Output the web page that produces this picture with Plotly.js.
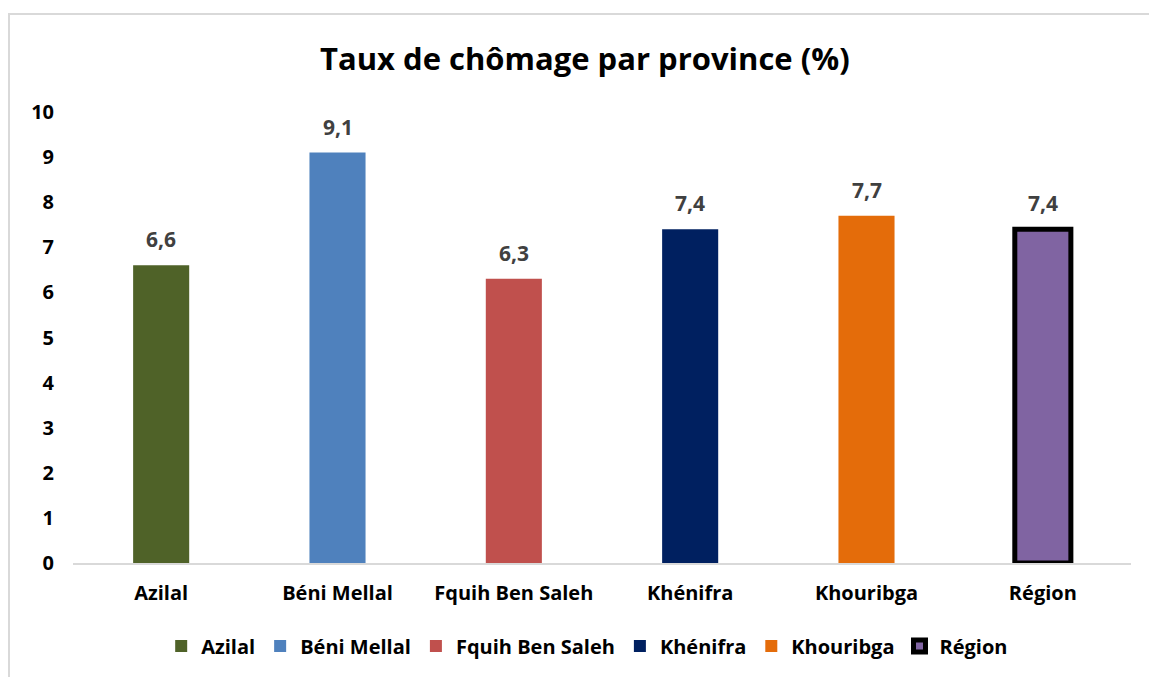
<!DOCTYPE html>
<html>
<head>
<meta charset="utf-8">
<script src="https://cdn.plot.ly/plotly-3.0.1.min.js"></script>
<style>
  html, body { margin: 0; padding: 0; background: #ffffff; }
  #frame { position: absolute; left: 8px; top: 13px; width: 1200px; height: 700px;
           border-left: 2px solid #D9D9D9; border-top: 2px solid #D9D9D9; }
  #chart { position: absolute; left: 0; top: 0; width: 1149px; height: 677px; }
</style>
</head>
<body>
<div id="frame"></div>
<div id="chart"></div>
<script>
const categories = ["Azilal", "Béni Mellal", "Fquih Ben Saleh", "Khénifra", "Khouribga", "Région"];
const values = [6.6, 9.1, 6.3, 7.4, 7.7, 7.4];
const colors = ["#4F6228", "#4F81BD", "#C0504D", "#002060", "#E46C0A", "#8064A2"];
const yTicks = [0, 1, 2, 3, 4, 5, 6, 7, 8, 9, 10];

const FONT = "'Open Sans', Lato, sans-serif";

const traces = categories.map((c, i) => ({
  type: "bar",
  x: [c],
  y: [values[i]],
  name: c,
  width: 0.318,
  marker: {
    color: colors[i],
    line: c === "Région" ? { color: "#000000", width: 5 } : { width: 0 }
  },
  hoverinfo: "x+y"
}));

const annotations = categories.map((c, i) => ({
  x: c,
  y: values[i],
  xref: "x",
  yref: "y",
  text: values[i].toFixed(1).replace(".", ","),
  showarrow: false,
  yanchor: "middle",
  yshift: 26,
  font: { family: FONT, size: 21, color: "#404040", weight: "bold" }
}));

const layout = {
  width: 1149,
  height: 677,
  paper_bgcolor: "rgba(0,0,0,0)",
  plot_bgcolor: "rgba(0,0,0,0)",
  margin: { l: 73, r: 18, t: 112, b: 114 },
  barmode: "overlay",
  separators: ", ",
  title: {
    text: "<b>Taux de chômage par province (%)</b>",
    font: { family: FONT, size: 31, color: "#000000" },
    x: 0.509,
    xanchor: "center",
    xref: "container",
    y: 0.913,
    yanchor: "middle",
    yref: "container"
  },
  xaxis: {
    type: "category",
    categoryorder: "array",
    categoryarray: categories,
    showline: true,
    linecolor: "#D9D9D9",
    linewidth: 2,
    showgrid: false,
    zeroline: false,
    ticks: "",
    ticklabelstandoff: 11,
    tickfont: { family: FONT, size: 20, color: "#000000", weight: "bold" }
  },
  yaxis: {
    range: [0, 10],
    tickvals: yTicks,
    ticktext: yTicks.map(String),
    showline: false,
    showgrid: false,
    zeroline: false,
    ticks: "",
    ticklabelstandoff: 18,
    tickfont: { family: FONT, size: 20, color: "#000000", weight: "bold" }
  },
  showlegend: true,
  legend: {
    orientation: "h",
    x: 0.486,
    xanchor: "center",
    y: -0.184,
    yanchor: "middle",
    font: { family: FONT, size: 20, color: "#000000", weight: "bold" },
    bgcolor: "rgba(0,0,0,0)"
  },
  annotations: annotations
};

Plotly.newPlot("chart", traces, layout, { displayModeBar: false, staticPlot: true });
</script>
</body>
</html>
